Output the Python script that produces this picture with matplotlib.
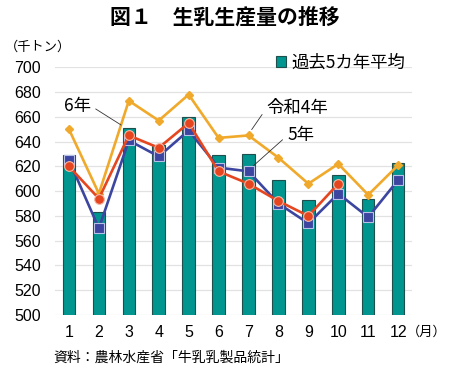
import matplotlib
matplotlib.use("Agg")
import matplotlib.pyplot as plt

plt.rcParams['font.family'] = ['Noto Sans CJK JP', 'DejaVu Sans']

# データ（千トン）
months = [1, 2, 3, 4, 5, 6, 7, 8, 9, 10, 11, 12]
month_labels = [str(m) for m in months]
avg5 = [629, 583, 651, 637, 660, 629, 630, 609, 593, 613, 594, 623]
r4 = [650, 598, 673, 657, 678, 643, 645, 627, 606, 622, 597, 621]
r5 = [625, 570, 641, 628, 649, 619, 616, 590, 574, 598, 579, 609]
r6 = [620, 594, 645, 635, 655, 616, 606, 592, 580, 606]
yticks = [500, 520, 540, 560, 580, 600, 620, 640, 660, 680, 700]

teal = '#00958f'
orange = '#f0a92a'
blue = '#3c46a0'
red = '#e6461f'

fig = plt.figure(figsize=(4.5, 3.75), dpi=100)
ax = fig.add_axes([0.122, 0.16, 0.794, 0.6605])

bars = ax.bar(months, avg5, width=0.42, bottom=0, color=teal,
              edgecolor='#1f4f4d', linewidth=0.8, zorder=2, label='過去5カ年平均')

ax.plot(months, r4, color=orange, lw=1.9, marker='D', ms=4.5,
        mfc=orange, mec=orange, zorder=3)
ax.plot(months, r5, color=blue, lw=1.9, marker='s', ms=6.5,
        mfc=blue, mec='#b8c0e8', mew=0.8, zorder=4)
ax.plot(months[:len(r6)], r6, color=red, lw=1.9, marker='o', ms=7,
        mfc=red, mec='#f5b8a8', mew=0.8, zorder=5)

ax.set_ylim(500, 700)
ax.set_xlim(0.53, 12.47)
ax.set_yticks(yticks)
ax.set_xticks(months)
ax.set_xticklabels(month_labels)
ax.grid(axis='y', color='#e2e2e2', lw=0.9, zorder=0)
ax.set_axisbelow(True)
for s in ax.spines.values():
    s.set_visible(False)
ax.tick_params(length=0)
ax.tick_params(axis='y', pad=10, labelsize=11.5)
ax.tick_params(axis='x', pad=7, labelsize=11.5)
for lab in ax.get_xticklabels() + ax.get_yticklabels():
    lab.set_family(['Liberation Sans', 'DejaVu Sans'])

# 注記
lead = dict(arrowstyle='-', color='#333333', lw=0.6, shrinkA=2, shrinkB=4)
ax.annotate('6年', xy=(2.9, 651), xytext=(1.27, 669), fontsize=12.5,
            ha='center', va='center', arrowprops=dict(lead, relpos=(1, 0.5)))
ax.annotate('令和4年', xy=(7.0, 646), xytext=(7.6, 667), fontsize=12.5,
            ha='left', va='center', arrowprops=dict(lead, relpos=(0, 0.5)))
ax.annotate('5年', xy=(7.0, 617), xytext=(8.3, 645), fontsize=12.5,
            ha='left', va='center', arrowprops=dict(lead, relpos=(0, 0.5)))

ax.legend(handles=[bars], loc='center right', bbox_to_anchor=(1.0, 1.02),
          frameon=False, fontsize=12.5, handlelength=0.6, handleheight=0.6,
          handletextpad=0.3, borderaxespad=0)

fig.text(0.5, 0.955, '図１　生乳生産量の推移', fontsize=15, fontweight='bold',
         ha='center', va='center')
fig.text(0.011, 0.875, '（千トン）', fontsize=9.5, ha='left', va='center')
fig.text(0.905, 0.115, '（月）', fontsize=9.5, ha='left', va='center')
fig.text(0.118, 0.045, '資料：農林水産省「牛乳乳製品統計」', fontsize=10,
         ha='left', va='center')

fig.savefig('out.png', dpi=100)
